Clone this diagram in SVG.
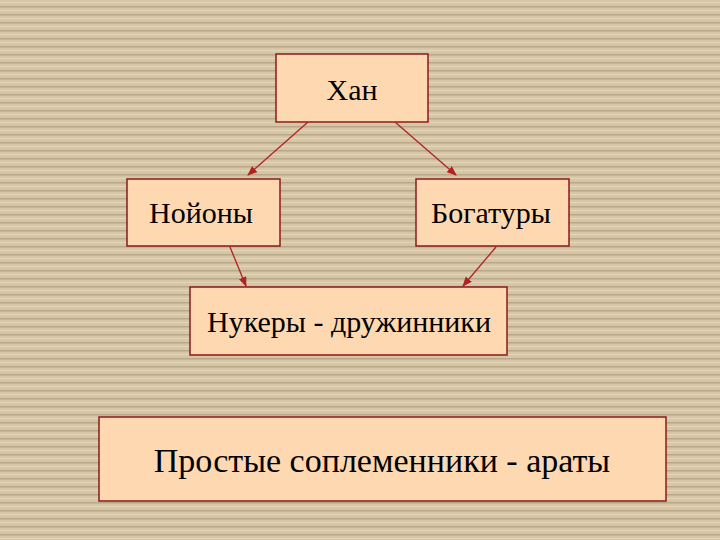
<svg xmlns="http://www.w3.org/2000/svg" width="720" height="540" viewBox="0 0 720 540">
<defs>
<pattern id="st" width="720" height="8" patternUnits="userSpaceOnUse">
<rect width="720" height="8" fill="#d6c6a6"/>
<rect y="6" width="720" height="1.5" fill="#b8a888"/>
<rect y="2" width="720" height="1" fill="#e4d6ba"/>
</pattern>
<marker id="a" markerWidth="10" markerHeight="8" refX="9" refY="4" orient="auto" markerUnits="userSpaceOnUse">
<path d="M0,0 L10,4 L0,8 Z" fill="#b22222"/>
</marker>
<style>
.b{fill:#fdd8b0;stroke:#8b1a1a;stroke-width:1.5}
.t{font-family:"Liberation Serif",serif;fill:#000;text-anchor:middle;font-size:30px}
.c line{stroke:#b22222;stroke-width:1.3;marker-end:url(#a)}
</style>
</defs>
<rect width="720" height="540" fill="url(#st)"/>
<g id="khan"><rect class="b" x="276" y="54" width="152" height="68"/><text class="t" x="352" y="100">Хан</text></g>
<g id="noyony"><rect class="b" x="127" y="179" width="153" height="67"/><text class="t" x="201" y="223">Нойоны</text></g>
<g id="bogatury"><rect class="b" x="416" y="179" width="153" height="67"/><text class="t" x="491" y="223">Богатуры</text></g>
<g id="nukery"><rect class="b" x="190" y="287" width="317" height="68"/><text class="t" x="349" y="332">Нукеры - дружинники</text></g>
<g id="araty"><rect class="b" x="99" y="417" width="567" height="84"/><text class="t" x="382" y="472" style="font-size:34px">Простые соплеменники - араты</text></g>
<g class="c" id="connectors">
<line x1="308" y1="122" x2="248" y2="175"/>
<line x1="395" y1="122" x2="456" y2="175"/>
<line x1="230" y1="247" x2="246" y2="286"/>
<line x1="496" y1="247" x2="463" y2="286"/>
</g>
</svg>
